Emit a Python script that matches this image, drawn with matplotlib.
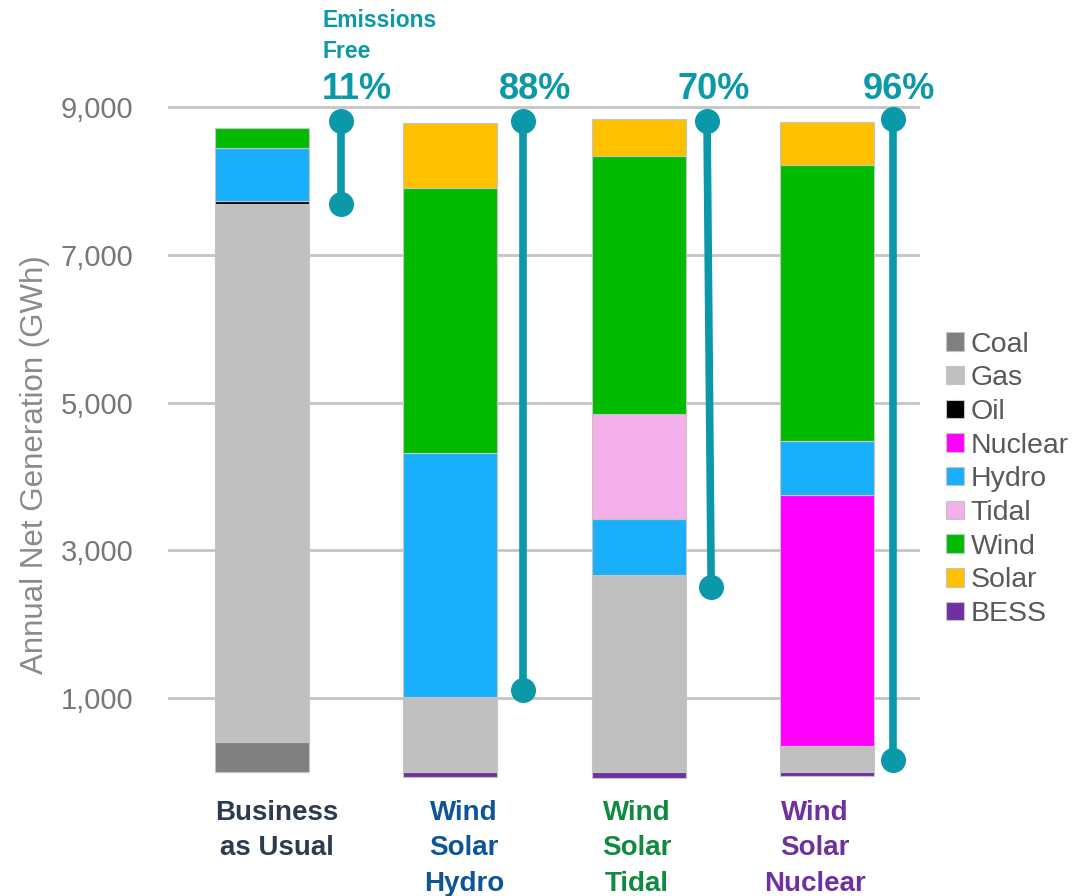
import matplotlib
matplotlib.use("Agg")
import matplotlib.pyplot as plt
from matplotlib.patches import Patch
import numpy as np

plt.rcParams['font.family'] = ['Liberation Sans', 'DejaVu Sans']

# annual net generation by source (GWh), one entry per scenario
scenarios = ['Business\nas Usual', 'Wind\nSolar\nHydro', 'Wind\nSolar\nTidal', 'Wind\nSolar\nNuclear']
coal    = [400, 0, 0, 0]
gas     = [7290, 1010, 2660, 350]
oil     = [40, 0, 0, 0]
nuclear = [0, 0, 0, 3400]
hydro   = [720, 3310, 760, 730]
tidal   = [0, 0, 1430, 0]
wind    = [270, 3580, 3490, 3740]
solar   = [0, 880, 500, 570]
bess    = [0, -70, -80, -60]

emissions_free = [11, 88, 70, 96]
# teal markers: x offset (top, bottom) and span (top, bottom) per scenario
bracket_x_top = [0.420, 1.386, 2.363, 3.351]
bracket_x_bot = [0.420, 1.386, 2.385, 3.351]
bracket_top   = [8810, 8810, 8810, 8836]
bracket_bot   = [7686, 1110, 2503, 162]

yticks = [1000, 3000, 5000, 7000, 9000]

sources = ['Coal', 'Gas', 'Oil', 'Nuclear', 'Hydro', 'Tidal', 'Wind', 'Solar', 'BESS']
colors = {'Coal': '#808080', 'Gas': '#C0C0C0', 'Oil': '#000000', 'Nuclear': '#FF00FF',
          'Hydro': '#1AAFFA', 'Tidal': '#F4B0EA', 'Wind': '#00BB00', 'Solar': '#FFC000',
          'BESS': '#7030A0'}
stack = [coal, gas, oil, nuclear, hydro, tidal, wind, solar]
label_colors = ['#2E3B4E', '#0D5597', '#108A3E', '#7030A0']
label_x = [0.08, 1.073, 1.99, 2.937]
pct_x = [0.505, 1.450, 2.396, 3.383]
teal = '#0B98A8'

fig = plt.figure(figsize=(10.91, 8.96), dpi=100)
ax = fig.add_axes([0.1540, 0.1301, 0.6893, 0.7671])

x = np.arange(len(scenarios))
bottom = np.zeros(len(scenarios))
for name, vals in zip(sources[:-1], stack):
    vals = np.array(vals, dtype=float)
    ax.bar(x, vals, 0.5, bottom=bottom, color=colors[name],
           edgecolor='#c4c4c4', linewidth=0.8, zorder=2)
    bottom += vals
ax.bar(x, bess, 0.5, color=colors['BESS'], edgecolor='#c4c4c4', linewidth=0.8, zorder=2)

ax.set_xlim(-0.499, 3.494)
ax.set_ylim(-100, 9200)
ax.set_yticks(yticks)
ax.set_yticklabels([f'{v:,}' for v in yticks])
ax.set_xticks([])
ax.tick_params(axis='y', length=0, pad=25, labelsize=21, labelcolor='#777777')
ax.yaxis.grid(True, color='#c4c4c4', linewidth=2)
ax.set_axisbelow(True)
for s in ax.spines.values():
    s.set_visible(False)

ax.set_ylabel('Annual Net Generation (GWh)', fontsize=22.5, color='#8a8a8a')
ax.yaxis.set_label_coords(-0.1575, 0.458)

# emissions-free brackets and percentages
for i in range(len(scenarios)):
    ax.plot([bracket_x_top[i], bracket_x_bot[i]], [bracket_top[i], bracket_bot[i]],
            color=teal, linewidth=5.5, marker='o', markersize=17, clip_on=False, zorder=4)
    ax.text(pct_x[i], 9107, f'{emissions_free[i]}%', ha='center', va='baseline',
            fontsize=26, fontweight='bold', color=teal, clip_on=False)
ax.text(0.319, 9660, 'Emissions\nFree', ha='left', va='baseline', fontsize=16.5,
        fontweight='bold', color=teal, linespacing=1.45, clip_on=False)

# scenario names under the bars
for i, name in enumerate(scenarios):
    ax.text(label_x[i], -375, name, ha='center', va='top', fontsize=20,
            fontweight='bold', color=label_colors[i], linespacing=1.47, clip_on=False)

handles = [Patch(facecolor=colors[s], edgecolor='#c4c4c4', linewidth=0.8) for s in sources]
leg = fig.legend(handles, sources, loc='upper left', bbox_to_anchor=(0.867, 0.630),
                 frameon=False, fontsize=20.5, handlelength=0.62, handleheight=0.62,
                 handletextpad=0.25, labelspacing=0.27, borderpad=0, borderaxespad=0)
for t in leg.get_texts():
    t.set_color('#595959')

fig.savefig('out.png', dpi=100)
